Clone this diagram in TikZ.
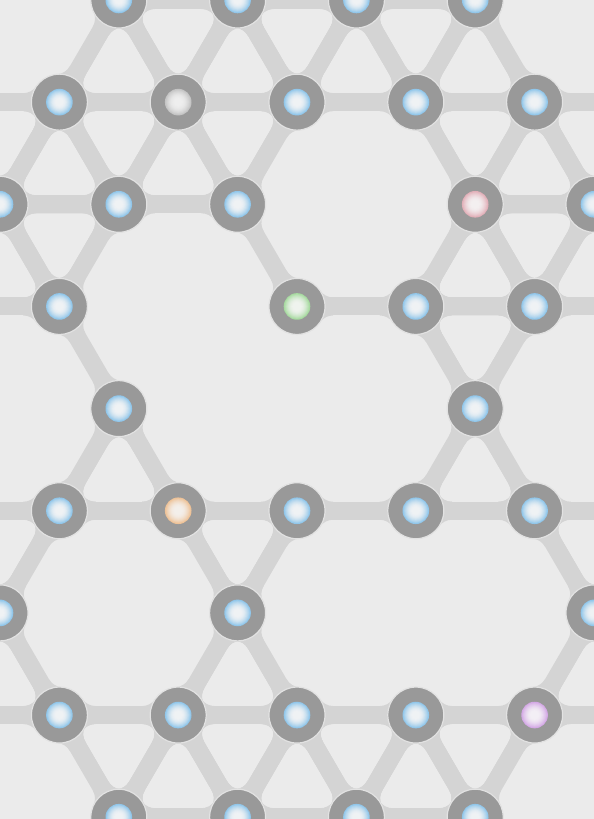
\documentclass[tikz,border=0pt]{standalone}
\usetikzlibrary{calc}
\definecolor{bgc}{HTML}{EBEBEB}
\definecolor{bandc}{HTML}{D4D4D4}
\definecolor{ringc}{HTML}{999999}
\definecolor{ringedge}{HTML}{E2E2E2}
\definecolor{blueA}{HTML}{EFF2F4}
\definecolor{blueD}{HTML}{90C6EA}
\definecolor{grayA}{HTML}{EEEEEE}
\definecolor{grayD}{HTML}{C4C4C4}
\definecolor{greenA}{HTML}{EFF3EE}
\definecolor{greenD}{HTML}{A6DA9F}
\definecolor{pinkA}{HTML}{F3EFF0}
\definecolor{pinkD}{HTML}{E2AFB8}
\definecolor{orA}{HTML}{F3EFEA}
\definecolor{orD}{HTML}{EEC297}
\definecolor{puA}{HTML}{F3EFF5}
\definecolor{puD}{HTML}{D4A8E6}
\pgfdeclarelayer{back}
\pgfsetlayers{back,main}
% inner ball: concentric discs from rim colour to centre colour
\newcommand\ballfill[1]{%
  \foreach \i in {0,...,15}{%
    \pgfmathsetmacro\fr{1-\i/16}%
    \pgfmathtruncatemacro\pc{100*(max(0,(\fr-0.3)/0.7))^1.7}%
    \fill[#1D!\pc!#1A] (path picture bounding box.center) circle[radius=13.3pt*\fr];%
  }%
}
\tikzset{
  ball/.style={circle, inner sep=0pt, minimum size=56pt, fill=ringc, draw=ringedge, line width=1.2pt,
    path picture={\ballfill{#1}}},
  ball/.default=blue,
  band/.style={draw=bandc, line width=18pt}
}
% flare where a band meets a node ring
\newcommand\flr[2]{%
  \pgfmathanglebetweenpoints{\pgfpointanchor{#1}{center}}{\pgfpointanchor{#2}{center}}%
  \edef\fang{\pgfmathresult}%
  \fill[bandc, shift={(#1.center)}, rotate=\fang] (36.2,9) arc[start angle=270,end angle=214.6,radius=16]
     -- (23.0,-15.9) arc[start angle=145.4,end angle=90,radius=16] -- cycle;%
}
% triangular face: filled, with a rounded hole
\newcommand\tri[3]{%
  \fill[bandc] (#1.center) -- (#2.center) -- (#3.center) -- cycle;
  \coordinate (tm) at ($(#1.center)!0.5!(#2.center)$);
  \coordinate (tg) at ($(tm)!0.33333!(#3.center)$);
  \coordinate (ta) at ($(tg)!0.7366!(#1.center)$);
  \coordinate (tb) at ($(tg)!0.7366!(#2.center)$);
  \coordinate (tc) at ($(tg)!0.7366!(#3.center)$);
  \fill[bgc, rounded corners=21pt] ($(ta)!0.5!(tb)$) -- (tb) -- (tc) -- (ta) -- cycle;%
}
\begin{document}
\begin{tikzpicture}[x=1pt,y=1pt]
\useasboundingbox (0,0) rectangle (594,819);
% row 0
\node[ball] (n01) at (118.8,819) {};
\node[ball] (n02) at (237.6,819) {};
\node[ball] (n03) at (356.4,819) {};
\node[ball] (n04) at (475.2,819) {};
% row 1
\node[ball] (n10) at (59.4,716.85) {};
\node[ball=gray] (n11) at (178.2,716.85) {};
\node[ball] (n12) at (297,716.85) {};
\node[ball] (n13) at (415.8,716.85) {};
\node[ball] (n14) at (534.6,716.85) {};
% row 2
\node[ball] (n20) at (0,614.7) {};
\node[ball] (n21) at (118.8,614.7) {};
\node[ball] (n22) at (237.6,614.7) {};
\node[ball=pink] (n24) at (475.2,614.7) {};
\node[ball] (n25) at (594,614.7) {};
% row 3
\node[ball] (n30) at (59.4,512.55) {};
\node[ball=green] (n32) at (297,512.55) {};
\node[ball] (n33) at (415.8,512.55) {};
\node[ball] (n34) at (534.6,512.55) {};
% row 4
\node[ball] (n41) at (118.8,410.4) {};
\node[ball] (n44) at (475.2,410.4) {};
% row 5
\node[ball] (n50) at (59.4,308.25) {};
\node[ball=or] (n51) at (178.2,308.25) {};
\node[ball] (n52) at (297,308.25) {};
\node[ball] (n53) at (415.8,308.25) {};
\node[ball] (n54) at (534.6,308.25) {};
% row 6
\node[ball] (n60) at (0,206.1) {};
\node[ball] (n62) at (237.6,206.1) {};
\node[ball] (n65) at (594,206.1) {};
% row 7
\node[ball] (n70) at (59.4,103.95) {};
\node[ball] (n71) at (178.2,103.95) {};
\node[ball] (n72) at (297,103.95) {};
\node[ball] (n73) at (415.8,103.95) {};
\node[ball=pu] (n74) at (534.6,103.95) {};
% row 8
\node[ball] (n81) at (118.8,1.8) {};
\node[ball] (n82) at (237.6,1.8) {};
\node[ball] (n83) at (356.4,1.8) {};
\node[ball] (n84) at (475.2,1.8) {};
% off-picture ends
\coordinate (L1) at (-59.4,716.85); \coordinate (R1) at (653.4,716.85);
\coordinate (L3) at (-59.4,512.55); \coordinate (R3) at (653.4,512.55);
\coordinate (L5) at (-59.4,308.25); \coordinate (R5) at (653.4,308.25);
\coordinate (L7) at (-59.4,103.95); \coordinate (R7) at (653.4,103.95);
\def\edgelist{n01/n02, n02/n03, n03/n04,
  n01/n10, n01/n11, n02/n11, n02/n12, n03/n12, n03/n13, n04/n13, n04/n14,
  L1/n10, n10/n11, n11/n12, n12/n13, n13/n14, n14/R1,
  n10/n20, n10/n21, n11/n21, n11/n22, n12/n22, n13/n24, n14/n24, n14/n25, L1/n20, n25/R1,
  n20/n21, n21/n22, n24/n25,
  n20/n30, n21/n30, n22/n32, n24/n33, n24/n34, n25/n34, n20/L3, n25/R3,
  L3/n30, n32/n33, n33/n34, n34/R3,
  n30/n41, n33/n44, n34/n44,
  n41/n50, n41/n51, n44/n53, n44/n54,
  L5/n50, n50/n51, n51/n52, n52/n53, n53/n54, n54/R5,
  n50/n60, n51/n62, n52/n62, n54/n65, L5/n60, R5/n65,
  n60/n70, n62/n71, n62/n72, n65/n74, L7/n60, R7/n65,
  L7/n70, n70/n71, n71/n72, n72/n73, n73/n74, n74/R7,
  n70/n81, n71/n81, n71/n82, n72/n82, n72/n83, n73/n83, n73/n84, n74/n84,
  n81/n82, n82/n83, n83/n84}
\begin{pgfonlayer}{back}
  \fill[bgc] (0,0) rectangle (594,819);
  \foreach \a/\b/\c in {n01/n02/n11, n02/n03/n12, n03/n04/n13, n01/n10/n11, n02/n11/n12, n03/n12/n13, n04/n13/n14,
    n10/n11/n21, n11/n12/n22, n13/n14/n24, n10/n20/n21, n11/n21/n22, n14/n24/n25,
    n20/n21/n30, n24/n25/n34, n24/n33/n34,
    n33/n34/n44, n41/n50/n51, n44/n53/n54, n51/n52/n62, n62/n71/n72,
    n70/n71/n81, n71/n72/n82, n72/n73/n83, n73/n74/n84, n71/n81/n82, n72/n82/n83, n73/n83/n84,
    L1/n10/n20, L3/n30/n20, L5/n50/n60, L7/n70/n60, n14/R1/n25, n34/R3/n25, n54/R5/n65, n74/R7/n65}
    {\tri{\a}{\b}{\c}}
  \foreach \a/\b in \edgelist {\flr{\a}{\b}\flr{\b}{\a}}
  \foreach \a/\b in \edgelist {\draw[band] (\a.center) -- (\b.center);}
\end{pgfonlayer}
\end{tikzpicture}
\end{document}
